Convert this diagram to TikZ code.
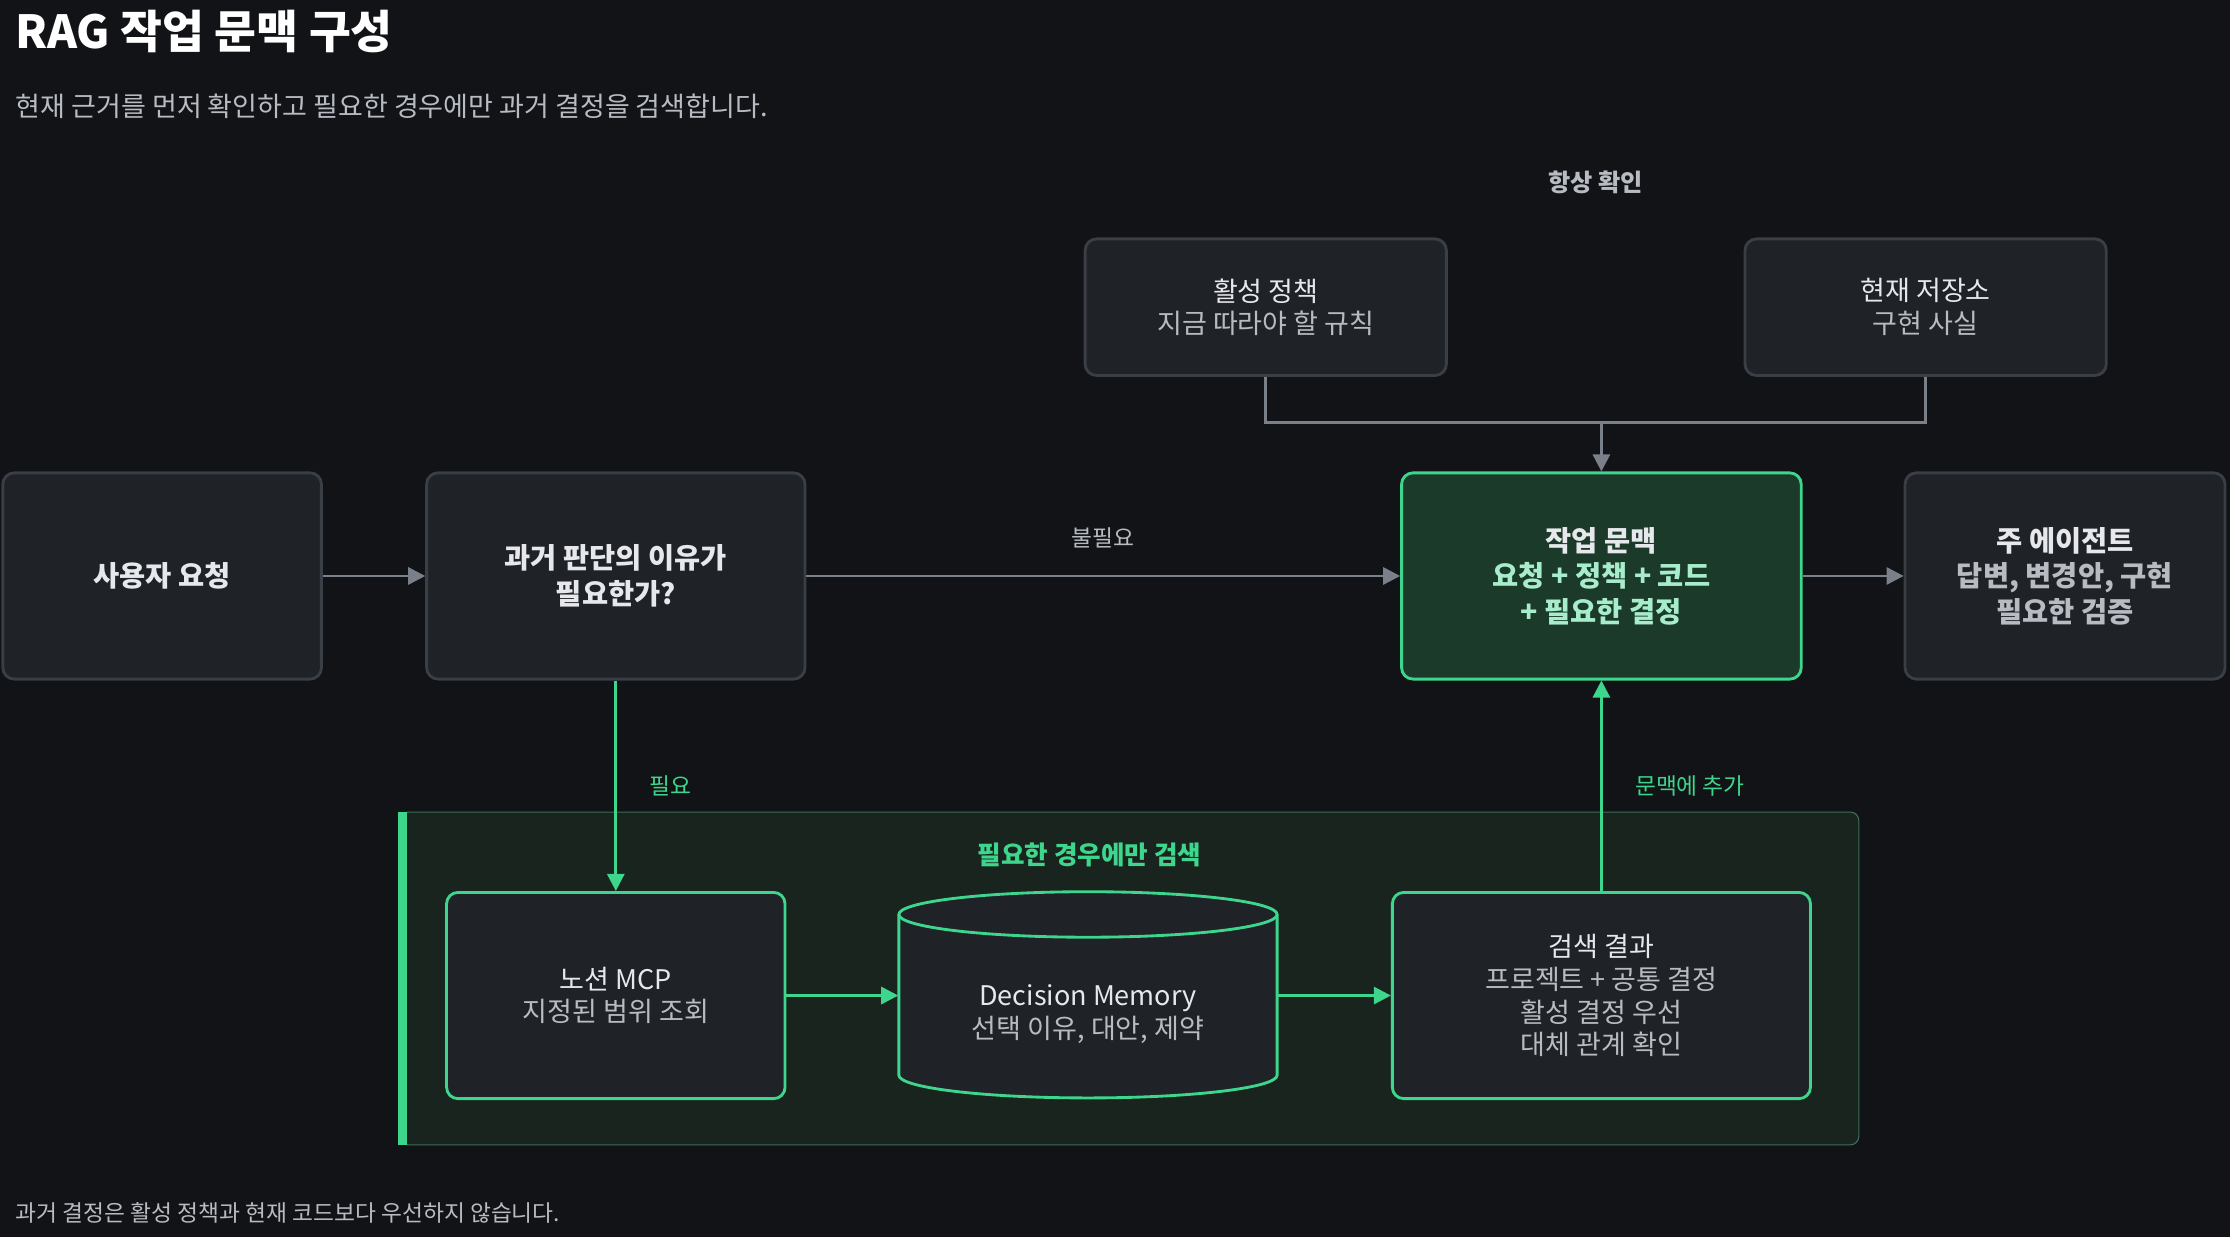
\documentclass[tikz,border=0pt]{standalone}
\usepackage{fontspec}
\setmainfont{Noto Sans CJK KR}
\usetikzlibrary{arrows.meta}
\definecolor{bg}{HTML}{111317}
\definecolor{boxfill}{HTML}{1F2227}
\definecolor{boxline}{HTML}{3A3E45}
\definecolor{grn}{HTML}{3DD68C}
\definecolor{grnfill}{HTML}{1B3A2A}
\definecolor{grpfill}{HTML}{18241D}
\definecolor{txt}{HTML}{E6E8EB}
\definecolor{sub}{HTML}{B8BCC2}
\definecolor{arr}{HTML}{7A808A}
\begin{document}
\begin{tikzpicture}[x=0.5pt, y=-0.5pt,
block/.style = {rectangle, draw=boxline, fill=boxfill, line width=1pt, rounded corners=4pt, align=center, text=txt, font=\fontsize{9.5}{11.5}\selectfont, inner sep=0pt},
gblock/.style = {block, draw=grn, line width=1pt},
lbl/.style = {font=\fontsize{8}{10}\selectfont, text=sub},
glbl/.style = {font=\fontsize{8}{10}\selectfont, text=grn},
link/.style = {draw=arr, line width=1pt, -{Triangle[length=6pt,width=6pt]}},
glink/.style = {draw=grn, line width=1pt, -{Triangle[length=6pt,width=6pt]}}]
\fill[bg] (0,0) rectangle (1568,870);
\useasboundingbox (0,0) rectangle (1568,870);
% headings
\node[anchor=west, text=white, font=\fontsize{16}{18}\selectfont\bfseries] (title) at (4,22) {RAG 작업 문맥 구성};
\node[anchor=west, text=sub, font=\fontsize{9.5}{11}\selectfont] (subtitle) at (4,75) {현재 근거를 먼저 확인하고 필요한 경우에만 과거 결정을 검색합니다.};
\node[lbl, font=\fontsize{8.5}{10}\selectfont\bfseries] (always) at (1122,128) {항상 확인};
% group
\fill[grpfill, draw=boxline!70!grn, rounded corners=3pt] (281,571) rectangle (1307,805);
\fill[grn] (280,571) rectangle (286,805);
\node[glbl, font=\fontsize{9}{11}\selectfont\bfseries] (grptitle) at (766,601) {필요한 경우에만 검색};
% top row
\node[block, minimum width=127pt, minimum height=48pt] (policy) at (890,216) {활성 정책\\{\color{sub}지금 따라야 할 규칙}};
\node[block, minimum width=127pt, minimum height=48pt] (repo) at (1354,216) {현재 저장소\\{\color{sub}구현 사실}};
% main row
\node[block, minimum width=112pt, minimum height=72.5pt, font=\fontsize{10}{12}\selectfont\bfseries] (user) at (114,405) {사용자 요청};
\node[block, minimum width=133pt, minimum height=72.5pt, font=\fontsize{10}{12.5}\selectfont\bfseries] (ask) at (433,405) {과거 판단의 이유가\\필요한가?};
\node[gblock, fill=grnfill, minimum width=140.5pt, minimum height=72.5pt, font=\fontsize{10}{12.5}\selectfont\bfseries] (ctx) at (1126,405) {작업 문맥\\{\color{grn!45!white}요청 + 정책 + 코드}\\{\color{grn!45!white}+ 필요한 결정}};
\node[block, minimum width=112.5pt, minimum height=72.5pt, font=\fontsize{10}{12.5}\selectfont\bfseries] (agent) at (1452,405) {주 에이전트\\{\color{sub}답변, 변경안, 구현}\\{\color{sub}필요한 검증}};
% search row
\node[gblock, minimum width=119pt, minimum height=72.5pt] (notion) at (433,700) {노션 MCP\\{\color{sub}지정된 범위 조회}};
\node[minimum width=133pt, minimum height=72.5pt, inner sep=0pt] (mem) at (765,700) {};
\draw[draw=grn, fill=boxfill, line width=1pt] (632,643) -- (632,756) arc[start angle=180, end angle=0, x radius=133, y radius=16] -- (898,643) arc[start angle=0, end angle=-180, x radius=133, y radius=16] -- cycle;
\draw[draw=grn, line width=1pt] (898,643) arc[start angle=0, end angle=180, x radius=133, y radius=16];
\node[text=txt, font=\fontsize{9.5}{11.5}\selectfont, align=center] (memtxt) at (765,713) {Decision Memory\\{\color{sub}선택 이유, 대안, 제약}};
\node[gblock, minimum width=147pt, minimum height=72.5pt] (result) at (1126,700) {검색 결과\\{\color{sub}프로젝트 + 공통 결정}\\{\color{sub}활성 결정 우선}\\{\color{sub}대체 관계 확인}};
% connectors
\coordinate (merge) at (1126,297);
\draw[draw=arr, line width=1pt] (policy.south) |- (merge) -| (repo.south);
\draw[link] (merge) -- (ctx.north);
\draw[link] (user) -- (ask);
\draw[link] (ask) -- node[lbl, above=6pt] {불필요} (ctx);
\draw[link] (ctx) -- (agent);
\draw[glink] (ask) -- node[glbl, pos=0.5, right=8pt] {필요} (notion);
\draw[glink] (notion) -- (mem);
\draw[glink] (mem) -- (result);
\draw[glink] (result) -- node[glbl, pos=0.5, right=8pt] {문맥에 추가} (ctx);
% footer
\node[anchor=west, text=sub, font=\fontsize{8}{10}\selectfont] (note) at (4,853) {과거 결정은 활성 정책과 현재 코드보다 우선하지 않습니다.};
\end{tikzpicture}
\end{document}
